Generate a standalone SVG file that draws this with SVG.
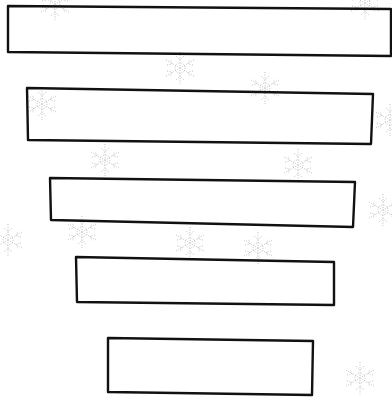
<svg xmlns="http://www.w3.org/2000/svg" xmlns:xlink="http://www.w3.org/1999/xlink" width="392" height="397" viewBox="0 0 392 397">
<style>
.box{fill:none;stroke:#111111;stroke-width:2.4;stroke-linejoin:round;stroke-linecap:round}
.flake{fill:none;stroke:#b8b8b8;stroke-width:0.9;stroke-dasharray:1 1.6}
</style>
<defs>
<g id="sf">
<path class="flake" d="M0,-16 L0,16 M-14,-8 L14,8 M-14,8 L14,-8 M-4,-12 L0,-8 L4,-12 M-4,12 L0,8 L4,12 M-13,-3 L-8,-4 L-10,-9 M13,3 L8,4 L10,9 M-13,3 L-8,4 L-10,9 M13,-3 L8,-4 L10,-9"/>
<circle class="flake" r="5"/>
</g>
</defs>
<rect width="392" height="397" fill="#ffffff"/>
<g id="background">
<use xlink:href="#sf" x="180" y="68"/>
<use xlink:href="#sf" x="42" y="104"/>
<use xlink:href="#sf" x="265" y="88"/>
<use xlink:href="#sf" x="105" y="160"/>
<use xlink:href="#sf" x="298" y="165"/>
<use xlink:href="#sf" x="82" y="232"/>
<use xlink:href="#sf" x="190" y="243"/>
<use xlink:href="#sf" x="258" y="248"/>
<use xlink:href="#sf" x="383" y="210"/>
<use xlink:href="#sf" x="360" y="378"/>
<use xlink:href="#sf" x="8" y="240"/>
<use xlink:href="#sf" x="55" y="4"/>
<use xlink:href="#sf" x="365" y="3"/>
<use xlink:href="#sf" x="390" y="120"/>
</g>
<g id="connectors"></g>
<g id="node1"><polygon class="box" points="8,6 391,9 391,56 8,52"/></g>
<g id="node2"><polygon class="box" points="27,88 373,94 371,144 28,140"/></g>
<g id="node3"><polygon class="box" points="50,178 355,182 353,227 51,220"/></g>
<g id="node4"><polygon class="box" points="76,257 334,262 334,305 77,302"/></g>
<g id="node5"><polygon class="box" points="108,338 313,341 312,395 108,392"/></g>
</svg>
